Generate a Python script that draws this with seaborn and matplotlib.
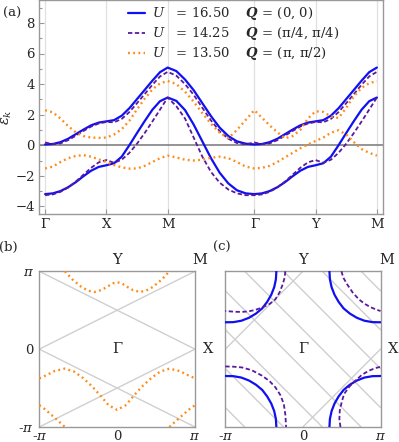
# 重現能帶結構 (a) 與費米面 (b)(c) 圖

import numpy as np
import matplotlib.pyplot as plt
import seaborn as sns

sns.set_theme(style='white')
# 字體設定要放在 set_theme 之後
plt.rcParams['font.family'] = ['DejaVu Serif']
plt.rcParams['mathtext.fontset'] = 'dejavuserif'

# ---------------- (a) 能帶資料：沿 Γ-X-M-Γ-Y-M ----------------
path_labels = ['Γ', 'X', 'M', 'Γ', 'Y', 'M']
seg_lengths = [1, 1, np.sqrt(2), 1, 1]
seg_points = [9, 9, 11, 9, 9]

# U = 16.50, Q = (0,0)  (藍色實線)
blue_up_GX = [0.05, 0.08, 0.20, 0.42, 0.72, 1.02, 1.30, 1.48, 1.56]
blue_up_XM = [1.56, 1.64, 1.93, 2.42, 3.02, 3.62, 4.22, 4.78, 5.08]
blue_up_MG = [5.08, 4.85, 4.30, 3.60, 2.75, 1.90, 1.15, 0.60, 0.25, 0.10, 0.05]
blue_lo_GX = [-3.20, -3.15, -3.00, -2.75, -2.42, -2.03, -1.67, -1.42, -1.31]
blue_lo_XM = [-1.31, -1.18, -0.75, 0.00, 0.80, 1.58, 2.32, 2.88, 3.12]
blue_lo_MG = [3.12, 2.90, 2.30, 1.35, 0.25, -0.85, -1.80, -2.50, -2.95, -3.15, -3.20]

# U = 14.25, Q = (π/4,π/4)  (紫色虛線)
purple_up_GX = [0.18, 0.07, 0.12, 0.33, 0.62, 0.93, 1.22, 1.42, 1.52]
purple_up_XM = [1.52, 1.50, 1.72, 2.17, 2.75, 3.35, 3.95, 4.50, 4.80]
purple_up_MG = [4.80, 4.55, 4.00, 3.30, 2.45, 1.62, 0.92, 0.42, 0.14, 0.06, 0.18]
purple_lo_GX = [-3.27, -3.22, -3.05, -2.77, -2.38, -1.93, -1.48, -1.12, -0.97]
purple_lo_XM = [-0.97, -1.15, -0.95, -0.50, 0.10, 0.80, 1.55, 2.33, 3.12]
purple_lo_MG = [3.12, 2.55, 1.75, 0.50, -0.75, -1.75, -2.45, -2.90, -3.15, -3.27, -3.27]

# U = 13.50, Q = (π,π/2)  (橘色點線)
orange_up_GX = [2.29, 2.15, 1.75, 1.25, 0.85, 0.60, 0.50, 0.48, 0.50]
orange_up_XM = [0.50, 0.70, 1.05, 1.60, 2.35, 3.05, 3.65, 4.05, 4.20]
orange_up_MG = [4.20, 4.00, 3.50, 2.85, 2.10, 1.40, 0.82, 0.46, 1.00, 1.65, 2.29]
orange_up_GY = [2.29, 1.80, 1.30, 0.85, 0.45, 0.60, 1.00, 1.75, 2.22]
orange_up_YM = [2.22, 2.18, 1.88, 1.78, 2.45, 3.20, 3.75, 4.06, 4.20]
orange_lo_GX = [-1.52, -1.40, -1.10, -0.85, -0.70, -0.65, -0.75, -0.93, -1.10]
orange_lo_XM = [-1.10, -1.30, -1.45, -1.53, -1.52, -1.35, -1.10, -0.85, -0.68]
orange_lo_MG = [-0.68, -0.80, -0.95, -1.00, -0.95, -0.82, -0.75, -0.85, -1.10, -1.40, -1.52]
orange_lo_GY = [-1.52, -1.48, -1.35, -1.10, -0.80, -0.50, -0.20, 0.05, 0.28]
orange_lo_YM = [0.28, 0.50, 0.82, 0.98, 0.70, 0.20, -0.25, -0.50, -0.68]

legend_U = ['16.50', '14.25', '13.50']
legend_Q = ['(0, 0)', '(π/4, π/4)', '(π, π/2)']

# ---------------- (b) 費米面 Q = (π,π/2)，單位 π ----------------
b_top_kx = [-0.67, -0.58, -0.46, -0.37, -0.29, -0.20, -0.13, -0.06, 0.00,
            0.06, 0.13, 0.20, 0.29, 0.37, 0.46, 0.58, 0.67]
b_top_ky = [1.00, 0.90, 0.80, 0.75, 0.735, 0.76, 0.80, 0.845, 0.86,
            0.845, 0.80, 0.76, 0.735, 0.75, 0.80, 0.90, 1.00]
b_mid_kx = [-1.00, -0.90, -0.80, -0.67, -0.55, -0.44, -0.33, -0.22, -0.11, 0.00,
            0.11, 0.22, 0.33, 0.44, 0.55, 0.67, 0.80, 0.90, 1.00]
b_mid_ky = [-0.376, -0.33, -0.28, -0.25, -0.29, -0.37, -0.47, -0.59, -0.72, -0.78,
            -0.72, -0.59, -0.47, -0.37, -0.29, -0.25, -0.28, -0.33, -0.376]
b_bl_kx = [-1.00, -0.93, -0.86, -0.77, -0.67]
b_bl_ky = [-0.72, -0.77, -0.83, -0.91, -1.00]
b_br_kx = [0.67, 0.77, 0.86, 0.93, 1.00]
b_br_ky = [-1.00, -0.91, -0.83, -0.77, -0.72]
# 灰線：ky = slope*kx + intercept
b_line_slope = [-0.5, 0.5, -0.5, 0.5]
b_line_icpt = [0.5, 0.5, -0.5, -0.5]

# ---------------- (c) 費米面 Q=(0,0) 與 Q=(π/4,π/4) ----------------
# 藍色：以角落 M 點為中心的弧 (離角落的距離)
c_blue_dx = [0.658, 0.652, 0.630, 0.592, 0.540, 0.476, 0.395, 0.305, 0.207, 0.104, 0.000]
c_blue_dy = [0.000, 0.103, 0.205, 0.302, 0.392, 0.476, 0.543, 0.597, 0.635, 0.653, 0.655]
corners = [(-1, 1), (1, 1), (-1, -1), (1, -1)]
# 紫色：四個角各自的弧
c_pur_tl_kx = [-0.226, -0.235, -0.26, -0.30, -0.355, -0.43, -0.526, -0.61, -0.70, -0.79, -0.87, -0.94, -1.00]
c_pur_tl_ky = [1.00, 0.92, 0.833, 0.73, 0.64, 0.58, 0.535, 0.505, 0.485, 0.478, 0.48, 0.485, 0.49]
c_pur_tr_kx = [0.497, 0.52, 0.57, 0.64, 0.72, 0.80, 0.87, 0.94, 1.00]
c_pur_tr_ky = [1.00, 0.92, 0.833, 0.73, 0.64, 0.58, 0.54, 0.51, 0.49]
c_pur_br_kx = [0.484, 0.47, 0.475, 0.50, 0.53, 0.60, 0.677, 0.76, 0.85, 0.93, 1.00]
c_pur_br_ky = [-1.00, -0.90, -0.79, -0.68, -0.577, -0.48, -0.405, -0.33, -0.277, -0.245, -0.226]
c_pur_bl_kx = [-1.00, -0.90, -0.785, -0.66, -0.526, -0.43, -0.355, -0.29, -0.246, -0.225, -0.217]
c_pur_bl_ky = [-0.222, -0.225, -0.235, -0.27, -0.341, -0.41, -0.49, -0.59, -0.705, -0.85, -1.00]
# 灰線：kx + ky = c  以及  ky - kx = c
c_anti_icpt = [-1.75, -1.25, -0.75, -0.25, 0.25, 0.75, 1.25, 1.75]
c_diag_icpt = [-1.0, 1.0]

# ---------------- 樣式 ----------------
BLUE = '#1010f0'
PURPLE = '#5a1a9e'
ORANGE = '#ff8c1a'
FRAME = '#999999'
GRID = '#cfcfcf'
styles = [dict(color=BLUE, lw=1.6, linestyle='-'),
          dict(color=PURPLE, lw=1.3, linestyle=(0, (2.4, 1.4))),
          dict(color=ORANGE, lw=1.7, linestyle=(0, (0.8, 1.4)))]
FS = 9.5

fig = plt.figure(figsize=(3.99, 4.42), dpi=100)

# ======== (a) ========
nodes = np.concatenate([[0], np.cumsum(seg_lengths)])
x_seg = [np.linspace(nodes[i], nodes[i + 1], seg_points[i]) for i in range(5)]
x_path = np.concatenate(x_seg)

bands = [
    [blue_up_GX + blue_up_XM + blue_up_MG + blue_up_GX + blue_up_XM,
     blue_lo_GX + blue_lo_XM + blue_lo_MG + blue_lo_GX + blue_lo_XM],
    [purple_up_GX + purple_up_XM + purple_up_MG + purple_up_GX + purple_up_XM,
     purple_lo_GX + purple_lo_XM + purple_lo_MG + purple_lo_GX + purple_lo_XM],
    [orange_up_GX + orange_up_XM + orange_up_MG + orange_up_GY + orange_up_YM,
     orange_lo_GX + orange_lo_XM + orange_lo_MG + orange_lo_GY + orange_lo_YM],
]

ax = fig.add_axes([39 / 399, 1 - 214 / 442, 344 / 399, 214 / 442])
for xn in nodes:
    ax.axvline(xn, color='#e0e0e0', lw=0.9, zorder=0)
ax.axhline(0, color='#777777', lw=1.1, zorder=1)

handles = []
for i, series in enumerate(bands):
    for j, vals in enumerate(series):
        sns.lineplot(x=x_path, y=vals, ax=ax, sort=False, estimator=None,
                     zorder=2 + i, **styles[i])
    handles.append(ax.lines[-1])

labels = [rf'$U$   = {u}    $\boldsymbol{{Q}}$ = {q}'
          for u, q in zip(legend_U, legend_Q)]
ax.legend(handles, labels, loc='upper left', bbox_to_anchor=(0.259, 0.975),
          frameon=False, fontsize=FS, handlelength=1.3, handletextpad=0.5,
          borderpad=0, borderaxespad=0, labelspacing=0.22)

ax.set_xlim(-0.1, nodes[-1] + 0.1)
ax.set_ylim(-4.5, 9.5)
ax.set_xticks(nodes)
ax.set_xticklabels(path_labels)
ax.set_yticks(np.arange(-4, 9, 2))
ax.set_yticks(np.arange(-3, 10, 2), minor=True)
ax.tick_params(which='both', direction='in', color=FRAME, width=0.8,
               labelsize=FS, left=True, bottom=True, pad=3)
ax.tick_params(which='major', length=3.5)
ax.tick_params(which='minor', length=2)
ax.set_ylabel(r'$\epsilon_k$', fontsize=FS + 1)
ax.yaxis.set_label_coords(-0.072, 0.45)
for sp in ax.spines.values():
    sp.set_color(FRAME)
    sp.set_linewidth(1.0)
ax.set_xlabel('')

# ======== (b) (c) 共用 ========
def setup_bz(axb, left_labels):
    axb.set_xlim(-1, 1)
    axb.set_ylim(-1, 1)
    axb.set_xticks([-1, 0, 1])
    axb.set_xticklabels([r'-$\pi$', '0', r'$\pi$'])
    if left_labels:
        axb.set_yticks([-1, 0, 1])
        axb.set_yticklabels([r'-$\pi$', '0', r'$\pi$'])
    else:
        axb.set_yticks([])
    axb.tick_params(length=0, labelsize=FS, pad=4)
    axb.tick_params(axis='x', pad=2.5)
    for sp in axb.spines.values():
        sp.set_color(FRAME)
        sp.set_linewidth(1.0)
    axb.text(0, 0, 'Γ', ha='center', va='center', fontsize=FS + 1)
    axb.text(0, 1.145, 'Y', ha='center', va='center', fontsize=FS + 1)

# ======== (b) ========
axb = fig.add_axes([39.3 / 399, 1 - 427 / 442, 155.7 / 399, 155.7 / 442])
setup_bz(axb, True)
for s, b in zip(b_line_slope, b_line_icpt):
    axb.axline((0, b), slope=s, color=GRID, lw=1.0, zorder=1)
for kx, ky in [(b_top_kx, b_top_ky), (b_mid_kx, b_mid_ky),
               (b_bl_kx, b_bl_ky), (b_br_kx, b_br_ky)]:
    sns.lineplot(x=kx, y=ky, ax=axb, sort=False, estimator=None, zorder=3,
                 **styles[2])
axb.text(1.064, 1.145, 'M', ha='center', va='center', fontsize=FS + 1)
# 兩個面板之間共用的 X 標籤
axb.text(1.167, 0, 'X', ha='center', va='center', fontsize=FS + 1)
axb.set_xlabel('')
axb.set_ylabel('')

# ======== (c) ========
axc = fig.add_axes([225.3 / 399, 1 - 427 / 442, 155.2 / 399, 155.7 / 442])
setup_bz(axc, False)
for c in c_anti_icpt:
    axc.axline((0, c), slope=-1, color=GRID, lw=1.0, zorder=1)
for c in c_diag_icpt:
    axc.axline((0, c), slope=1, color=GRID, lw=1.0, zorder=1)
for cx, cy in corners:
    kx = [cx - np.sign(cx) * d for d in c_blue_dx]
    ky = [cy - np.sign(cy) * d for d in c_blue_dy]
    sns.lineplot(x=kx, y=ky, ax=axc, sort=False, estimator=None, zorder=3,
                 **styles[0])
for kx, ky in [(c_pur_tl_kx, c_pur_tl_ky), (c_pur_tr_kx, c_pur_tr_ky),
               (c_pur_br_kx, c_pur_br_ky), (c_pur_bl_kx, c_pur_bl_ky)]:
    sns.lineplot(x=kx, y=ky, ax=axc, sort=False, estimator=None, zorder=4,
                 **styles[1])
axc.text(1.08, 1.145, 'M', ha='center', va='center', fontsize=FS + 1)
axc.text(1.165, 0, 'X', ha='center', va='center', fontsize=FS + 1)
axc.set_xlabel('')
axc.set_ylabel('')

# 面板編號
fig.text(12 / 399, 1 - 13 / 442, '(a)', ha='center', va='center', fontsize=FS)
fig.text(8.5 / 399, 1 - 247 / 442, '(b)', ha='center', va='center', fontsize=FS)
fig.text(221.7 / 399, 1 - 247 / 442, '(c)', ha='center', va='center', fontsize=FS)

fig.savefig('out.png', dpi=100)
